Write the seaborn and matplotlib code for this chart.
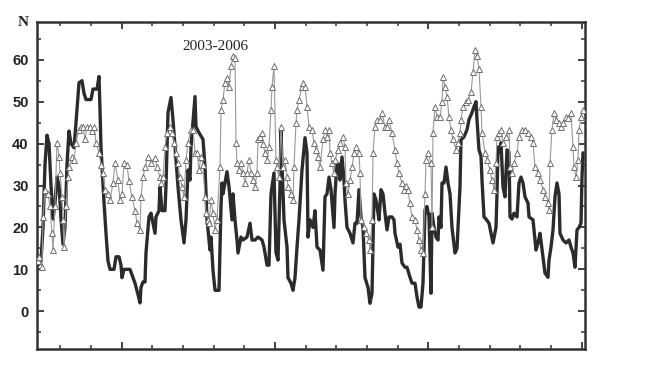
import numpy as np
import pandas as pd
import matplotlib
matplotlib.use('Agg')
import matplotlib.pyplot as plt
import seaborn as sns
from matplotlib.ticker import MultipleLocator, FixedLocator, NullFormatter

# day index from start of 2003 (3 years on the axis)
black_day = [
    2, 8, 12, 16, 20, 24, 28, 32, 36, 40,
    44, 48, 52, 56, 60, 64, 68, 74, 78, 84,
    90, 94, 98, 108, 112, 120, 124, 126, 128, 134,
    138, 142, 146, 154, 158, 164, 168, 170, 174, 186,
    192, 196, 202, 206, 208, 212, 216, 218, 224, 228,
    232, 236, 238, 244, 246, 250, 256, 258, 262, 268,
    272, 276, 282, 288, 294, 298, 302, 306, 308, 316,
    318, 324, 332, 336, 340, 346, 348, 352, 356, 364,
    366, 368, 370, 372, 380, 384, 390, 392, 396, 400,
    402, 408, 412, 420, 426, 430, 436, 442, 450, 454,
    460, 464, 466, 468, 474, 478, 482, 486, 488, 490,
    494, 500, 502, 508, 512, 516, 520, 524, 530, 536,
    540, 542, 546, 552, 556, 560, 566, 572, 576, 580,
    584, 588, 594, 596, 600, 604, 606, 610, 614, 616,
    620, 626, 632, 636, 640, 644, 648, 652, 656, 662,
    666, 670, 674, 678, 680, 684, 688, 692, 696, 700,
    704, 710, 714, 716, 722, 726, 730, 736, 740, 746,
    750, 756, 760, 764, 768, 772, 776, 780, 784, 788,
    790, 794, 798, 802, 804, 808, 810, 814, 818, 822,
    826, 830, 836, 840, 842, 846, 848, 854, 860, 864,
    870, 874, 878, 880, 884, 888, 890, 894, 898, 904,
    908, 912, 918, 920, 922, 926, 928, 932, 936, 940,
    944, 946, 950, 954, 960, 964, 968, 972, 976, 982,
    984, 992, 994, 998, 1002, 1006, 1012, 1016, 1022, 1024,
    1028, 1032, 1036, 1040, 1044, 1046, 1052, 1058, 1064, 1068,
    1072, 1076, 1080, 1084, 1088, 1090, 1092,
]
black_n = [
    11, 12, 20, 35, 42, 40, 30, 22, 26, 32,
    30, 22, 16, 20, 35, 43, 40, 39, 45, 54.5,
    55, 52, 50.5, 50.5, 53, 53, 56, 48, 39, 26,
    18.6, 12, 10, 10, 13, 13, 11, 8, 10, 10,
    8, 6.7, 4, 2, 5.7, 7, 7, 14, 22.5, 23.4,
    21, 18.6, 22.5, 24, 29.7, 24, 24, 30, 47.4, 51,
    45.7, 39.2, 29.7, 21.8, 16.3, 21.8, 33.7, 31.3, 39.2, 51.2,
    44, 42.6, 41, 34.4, 21.8, 14.6, 17.7, 9.8, 5, 5,
    15, 25, 30.6, 28, 33.3, 29.7, 21.8, 28, 21.8, 17,
    13.9, 17.7, 17, 17.7, 21, 17, 17, 17.7, 17, 15.3,
    11, 11, 20, 28, 33, 14, 12.2, 30, 43, 35,
    21.8, 15.3, 8, 6.7, 5, 8, 15.3, 21.8, 33.7, 41.4,
    37.8, 17.7, 21.8, 20, 24, 15.3, 14.6, 9.8, 27.3, 28,
    32, 29, 20, 28, 35.4, 35, 31.3, 36.8, 31.3, 26.5,
    20, 18.6, 16.3, 21, 21, 29, 22.5, 20, 8, 5.7,
    1.9, 4.3, 28, 26.5, 25, 21.8, 29, 28, 23.4, 19.4,
    22.5, 22.5, 21.8, 18.6, 15.3, 16, 11.5, 10.5, 10.5, 8.1,
    6.7, 6.7, 3.4, 1, 1, 6.7, 24.2, 25, 22.5, 4.3,
    23.4, 20, 17.7, 17, 22.5, 20, 30.6, 30.6, 34.4, 30.6,
    28, 20, 13.9, 15, 20, 29.7, 40.9, 41.6, 43.3, 45.7,
    47.4, 48.8, 50, 45.7, 38.5, 37, 31.3, 22.5, 22, 21,
    18.6, 16.3, 20, 28, 39.2, 38, 40.2, 29.7, 27.3, 38.5,
    38, 22.5, 22, 23.4, 22.5, 30.6, 32, 30.6, 27.3, 25.8,
    22.5, 21.8, 19.4, 14.6, 16.3, 18.6, 12.9, 9.1, 8.1, 12.2,
    15.3, 19.4, 27.3, 30.6, 28, 18.6, 17, 16.3, 17, 15.3,
    13.9, 10.5, 19.4, 20, 21, 32, 37.8,
]

gray_day = [
    2, 4, 10, 12, 16, 22, 26, 30, 32, 36,
    40, 44, 46, 50, 52, 54, 58, 62, 64, 70,
    74, 78, 84, 88, 92, 96, 100, 106, 110, 114,
    118, 124, 128, 132, 136, 142, 146, 152, 156, 162,
    166, 170, 174, 180, 184, 190, 196, 200, 206, 208,
    212, 216, 222, 228, 236, 240, 246, 248, 252, 256,
    260, 266, 270, 274, 278, 282, 286, 290, 294, 298,
    302, 308, 312, 316, 320, 324, 328, 332, 336, 338,
    342, 344, 348, 352, 356, 360, 366, 368, 372, 376,
    380, 384, 388, 392, 396, 398, 400, 404, 408, 412,
    416, 420, 424, 428, 432, 436, 440, 442, 446, 450,
    452, 456, 460, 464, 468, 470, 474, 478, 480, 484,
    488, 492, 496, 500, 502, 508, 512, 514, 518, 520,
    524, 530, 532, 536, 540, 544, 550, 554, 558, 562,
    566, 572, 576, 580, 584, 586, 590, 594, 596, 602,
    606, 612, 616, 618, 622, 626, 630, 634, 638, 644,
    646, 648, 654, 658, 664, 666, 670, 672, 676, 680,
    686, 690, 696, 700, 704, 710, 716, 720, 724, 730,
    734, 738, 742, 746, 750, 756, 760, 764, 768, 772,
    776, 778, 782, 788, 790, 792, 796, 800, 806, 810,
    812, 816, 820, 824, 828, 832, 838, 842, 846, 848,
    852, 858, 862, 868, 872, 876, 880, 884, 888, 890,
    896, 900, 906, 910, 914, 918, 920, 924, 928, 932,
    938, 944, 946, 950, 954, 960, 964, 970, 976, 982,
    988, 992, 996, 1002, 1006, 1012, 1016, 1022, 1024, 1026,
    1030, 1034, 1038, 1044, 1048, 1052, 1058, 1062, 1068, 1072,
    1074, 1078, 1082, 1084, 1088, 1092,
]
gray_n = [
    12, 13, 10.5, 22.5, 29, 28, 25, 18.6, 14.6, 25,
    40.2, 36.8, 33, 27.3, 21.8, 15.3, 25, 32, 34.4, 36.8,
    36.1, 40.2, 43.3, 44, 44, 41, 44, 44, 43, 44,
    40.2, 37.8, 35, 33, 29, 28, 26.5, 30.6, 35.4, 31.3,
    26.5, 28, 35.4, 35, 31, 27.3, 24, 21, 19.4, 27.3,
    32, 34.4, 36.8, 35.4, 36.6, 34.4, 32, 30.6, 32, 39.2,
    42.6, 44, 42.6, 40.2, 37.8, 35.4, 32, 29.7, 27.3, 36.1,
    40.2, 43.3, 43.3, 37.8, 37.8, 33.7, 36.8, 35, 27.3, 23.4,
    21.8, 21, 26.5, 23.4, 19.4, 21.8, 34.4, 48, 50.5, 54.5,
    55.7, 53.6, 58.4, 60.8, 60.5, 40.2, 35.4, 33.7, 35.4, 33,
    30.6, 33, 36.1, 33, 31.3, 29.7, 33, 41, 41.6, 42.6,
    40, 37.8, 36.1, 39.2, 48, 53.6, 58.4, 36.1, 34.4, 32,
    44, 34.4, 36.1, 32, 29.7, 28, 26.5, 34.4, 45, 48,
    50.5, 53.6, 54.5, 53.6, 48.8, 44, 43.3, 40.2, 38.5, 36.8,
    34.4, 41, 43.3, 41.6, 43.3, 37.8, 35.4, 33, 36, 38.5,
    40.2, 41.6, 39.2, 30.6, 28, 31.3, 34.4, 37.8, 39.2, 37.8,
    33, 21.8, 20, 18.6, 17, 14.6, 21.8, 37.8, 44, 45.7,
    45.7, 47.4, 44, 44, 45.7, 42.6, 38.5, 35.4, 33, 30.6,
    29, 30, 29, 25.8, 22.5, 21.8, 19.4, 17, 14.6, 13.9,
    28, 36.1, 37.8, 35.4, 20, 42.6, 48.8, 46.4, 46.4, 49.8,
    56, 53.6, 51.2, 46.4, 43.3, 41, 38.5, 40.2, 42.6, 45.7,
    48.8, 49.8, 50.5, 52.2, 57, 62.4, 60.8, 57.7, 48.8, 42.6,
    37.8, 36.1, 33.7, 31.3, 29, 35.4, 41.6, 42.6, 43.3, 40.2,
    41.6, 43.3, 34.4, 33, 35.4, 37.8, 41.6, 43.3, 43.3, 42.6,
    41.6, 40.2, 34.4, 33, 31.3, 29, 27.3, 25.8, 24.2, 35.4,
    43.3, 47.4, 45.7, 45, 44, 45, 46.4, 46, 47.4, 39.2,
    34.4, 32, 36.1, 43.3, 46.4, 48,
]

y_ticks = [0, 10, 20, 30, 40, 50, 60]

black = pd.DataFrame({'day': black_day, 'N': black_n})
gray = pd.DataFrame({'day': gray_day, 'N': gray_n})

sns.set_style('ticks')
plt.rcParams['font.family'] = ['Liberation Sans', 'DejaVu Sans']

fig = plt.figure(figsize=(6.5, 3.79), dpi=100)
ax = fig.add_axes([37 / 650, 1 - 349 / 379, 548 / 650, 327 / 379])

sns.lineplot(data=black, x='day', y='N', ax=ax, color='#2b2b2b', linewidth=2.4,
             estimator=None, sort=False, zorder=2)
sns.lineplot(data=gray, x='day', y='N', ax=ax, color='#999999', linewidth=0.8,
             estimator=None, sort=False, marker='^', markersize=5,
             markerfacecolor='white', markeredgecolor='#6e6e6e',
             markeredgewidth=0.7, zorder=3)

ax.set_xlim(0, 1096)
ax.set_ylim(-9, 69)
ax.set_xlabel('')
ax.set_ylabel('')

# 2-month minor ticks, longer tick every 5th
minor_x = np.arange(46.6, 1096, 61.33)
ax.xaxis.set_major_locator(FixedLocator(minor_x[2::5]))
ax.xaxis.set_minor_locator(FixedLocator(minor_x))
ax.xaxis.set_major_formatter(NullFormatter())
ax.set_yticks(y_ticks)
ax.yaxis.set_minor_locator(MultipleLocator(5))

ax.tick_params(which='major', direction='in', length=5, width=1.3, color='#333333',
               top=True, right=True, labelsize=10.5, labelcolor='#222222', pad=6)
ax.tick_params(which='minor', direction='in', length=3, width=1.1, color='#333333',
               top=True, right=True)
for lbl in ax.get_yticklabels():
    lbl.set_fontweight('bold')

for sp in ax.spines.values():
    sp.set_linewidth(1.8)
    sp.set_color('#333333')

ax.text(-0.026, 1.0, 'N', transform=ax.transAxes, ha='center', va='center',
        fontsize=11, fontweight='bold', family=['Liberation Serif', 'DejaVu Serif'],
        color='#222222')
ax.text(0.326, 0.925, '2003-2006', transform=ax.transAxes, ha='center', va='center',
        fontsize=11, family=['Liberation Serif', 'DejaVu Serif'], color='#222222')

fig.savefig('out.png', dpi=100)
